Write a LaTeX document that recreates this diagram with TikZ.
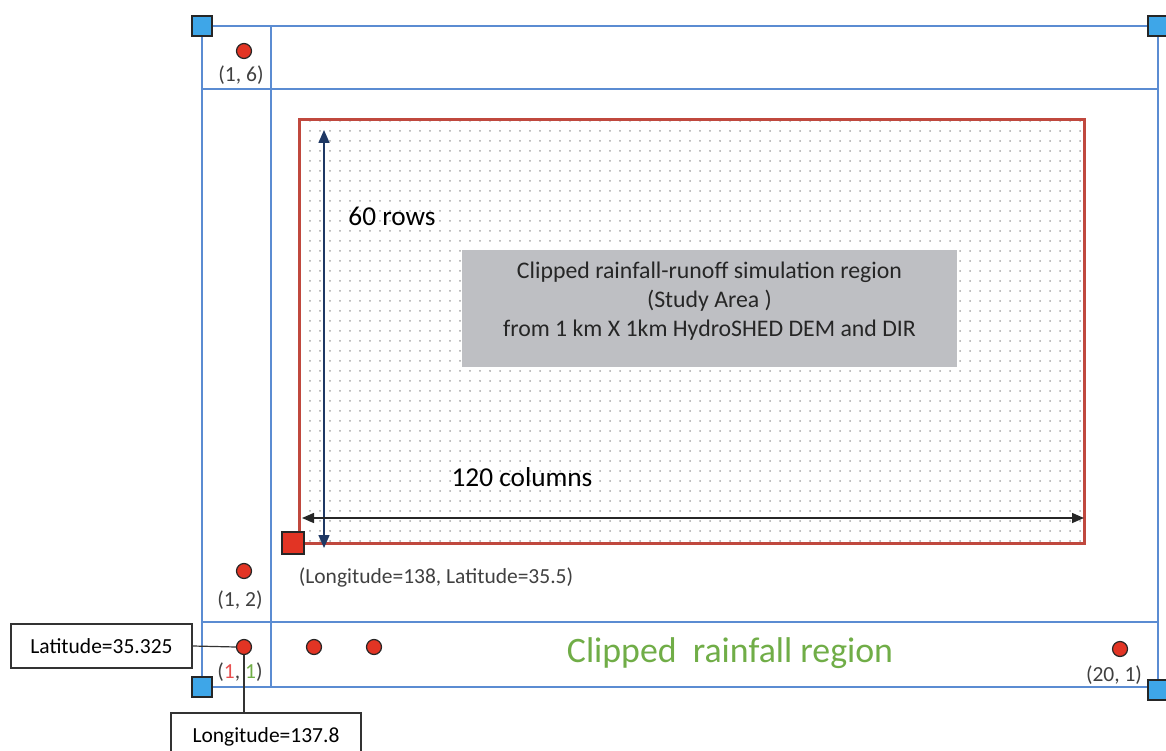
\documentclass[tikz,border=0pt]{standalone}
\usepackage{fontspec}
\setmainfont{Carlito}
\usetikzlibrary{patterns.meta,arrows.meta}
\definecolor{gridblue}{RGB}{91,140,210}
\definecolor{cornerblue}{RGB}{62,166,232}
\definecolor{dotred}{RGB}{226,52,36}
\definecolor{areared}{RGB}{192,72,62}
\definecolor{navyline}{RGB}{31,56,100}
\definecolor{boxgray}{RGB}{190,191,195}
\definecolor{labelgreen}{RGB}{112,173,71}
\definecolor{labelred}{RGB}{232,80,80}
\definecolor{labelgray}{RGB}{64,64,64}
\begin{document}
\begin{tikzpicture}[x=1pt,y=-1pt,
    every node/.style={font=\fontsize{21.5}{26}\selectfont},
    gridline/.style={gridblue,line width=2.2pt},
    corner/.style={draw=black!85,fill=cornerblue,minimum size=20pt,inner sep=0pt,line width=1.5pt},
    cell/.style={circle,draw=black!85,fill=dotred,minimum size=15pt,inner sep=0pt,line width=1.2pt},
    cellnum/.style={text=labelgray},
    infobox/.style={draw=black!80,line width=1.5pt,minimum height=44pt,inner sep=0pt},
    bigtext/.style={font=\fontsize{27.3}{32}\selectfont}]
  \useasboundingbox (0,0) rectangle (1166,751);
  % rainfall grid
  \draw[gridline] (202,26) rectangle (1158,687);
  \draw[gridline] (271,26) -- (271,687);
  \draw[gridline] (202,89) -- (1158,89);
  \draw[gridline] (202,622) -- (1158,622);
  % study area
  \draw[areared,line width=3pt,pattern={Dots[distance=10pt,radius=1pt]},pattern color=black!35]
    (299,120) rectangle (1084,543);
  \node[fill=boxgray,minimum width=495pt,minimum height=117pt] (study) at (709.5,308.5) {};
  \node[align=center,text=black!85,font=\fontsize{23.8}{29}\selectfont] (studytext) at (709.5,301)
    {Clipped rainfall-runoff simulation region\\(Study Area )\\from 1 km X 1km HydroSHED DEM and DIR};
  \coordinate (rowtop) at (324,130);
  \coordinate (rowbot) at (324,548);
  \coordinate (colleft) at (302,518);
  \coordinate (colright) at (1084,518);
  \draw[navyline,line width=1.5pt,{Triangle[length=13pt,width=11pt]}-{Triangle[length=13pt,width=11pt]}]
    (rowbot) -- (rowtop);
  \draw[black!85,line width=1.5pt,{Triangle[length=12pt,width=10pt]}-{Triangle[length=12pt,width=10pt]}]
    (colleft) -- (colright);
  \node[bigtext] (rows) at (392,216) {60 rows};
  \node[bigtext] (cols) at (522,477) {120 columns};
  \node[draw=black!85,fill=dotred,minimum size=22pt,inner sep=0pt,line width=1.2pt] (origin) at (293,543) {};
  \node[cellnum] (originlbl) at (436,577) {(Longitude=138, Latitude=35.5)};
  % corners
  \node[corner] (c1) at (202,26) {};
  \node[corner] (c2) at (1158,26) {};
  \node[corner] (c3) at (202,687) {};
  \node[corner] (c4) at (1158,690) {};
  % rainfall cells
  \foreach \name/\x/\y in {d16/244/51, d12/244/571, d11/244/647, d21/314/647, d31/374/647, d201/1120/649}
    \node[cell] (\name) at (\x,\y) {};
  \node[cellnum] at (241,75) {(1, 6)};
  \node[cellnum] at (240,600) {(1, 2)};
  \node[cellnum] at (240,672) {(\textcolor{labelred}{1}, \textcolor{labelgreen}{1})};
  \node[cellnum] at (1114,675) {(20, 1)};
  \node[text=labelgreen,font=\fontsize{35.8}{42}\selectfont] (region) at (730,653) {Clipped\ \ rainfall region};
  % coordinates of cell (1,1)
  \node[infobox,minimum width=181pt] (lat) at (101.5,646) {Latitude=35.325};
  \node[infobox,minimum width=190pt,minimum height=48pt] (lon) at (266,737) {Longitude=137.8};
  \draw[black!80,line width=1.2pt] (lat.east) -- (d11.west);
  \draw[black!80,line width=1.2pt] (d11.south) -- (d11.south |- lon.north);
\end{tikzpicture}
\end{document}
